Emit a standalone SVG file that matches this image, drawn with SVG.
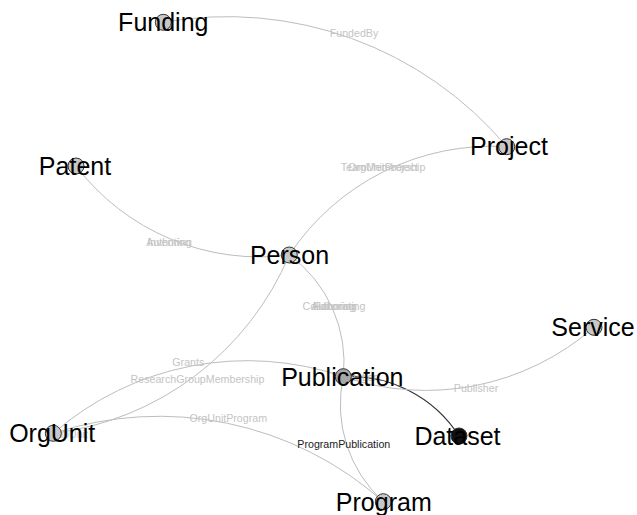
<svg xmlns="http://www.w3.org/2000/svg" width="637" height="515" viewBox="0 0 637 515">
<style>
.edge{fill:none;stroke:#bdbdbd;stroke-width:1}
.edge.dark{stroke:#333;stroke-width:1.2}
.elabel{font-family:"Liberation Sans",Arial,sans-serif;font-size:10.67px;fill:#c4c4c4;text-anchor:middle}
.elabel.dark{fill:#222}
.node circle{fill:#c8c8c8;stroke:#333;stroke-width:1}
.node text{font-family:"Liberation Sans",Arial,sans-serif;font-size:25px;fill:#000;text-anchor:middle}
</style>
<rect width="637" height="515" fill="#fff"/>
<g id="connectors">
<path class="edge" d="M163.3,22.3 A365.2,365.2 0 0,1 506.7,146.7"/>
<path class="edge" d="M289.3,255 A242.9,242.9 0 0,1 506.7,146.7"/>
<path class="edge" d="M289.3,255 A231.1,231.1 0 0,1 76,166"/>
<path class="edge" d="M289.3,255 A133.1,133.1 0 0,1 343.3,376.7"/>
<path class="edge" d="M289.3,255 A295.8,295.8 0 0,1 53.3,433.3"/>
<path class="edge" d="M53.3,433.3 A295.5,295.5 0 0,1 343.3,376.7"/>
<path class="edge" d="M53.3,433.3 A337,337 0 0,1 383.3,501.7"/>
<path class="edge" d="M383.3,501.7 A131.2,131.2 0 0,1 343.3,376.7"/>
<path class="edge dark" d="M343.3,376.7 A129.1,129.1 0 0,1 459,436"/>
<path class="edge" d="M594,327.3 A255.5,255.5 0 0,1 343.3,376.7"/>
<text class="elabel" x="354" y="37">FundedBy</text>
<text class="elabel" x="383" y="171">TeamMembership</text>
<text class="elabel" x="383" y="171">OrgUnitProject</text>
<text class="elabel" x="169" y="246">Invention</text>
<text class="elabel" x="169" y="246">Authoring</text>
<text class="elabel" x="334" y="310">Collaborating</text>
<text class="elabel" x="334" y="310">Authoring</text>
<text class="elabel" x="334" y="310">Editoring</text>
<text class="elabel" x="197.5" y="383">ResearchGroupMembership</text>
<text class="elabel" x="188.3" y="366">Grants</text>
<text class="elabel" x="228.3" y="422">OrgUnitProgram</text>
<text class="elabel dark" x="343.8" y="448">ProgramPublication</text>
<text class="elabel" x="476" y="392">Publisher</text>
<text class="elabel" x="361" y="381">Citation</text>
<text class="elabel" x="69" y="438">SubUnit</text>
</g>
<g id="node-funding" class="node"><circle cx="163.3" cy="22.3" r="8"/><text x="163.3" y="31">Funding</text></g>
<g id="node-project" class="node"><circle cx="506.7" cy="146.7" r="8"/><text x="509" y="155">Project</text></g>
<g id="node-patent" class="node"><circle cx="76" cy="166" r="8"/><text x="75" y="175">Patent</text></g>
<g id="node-person" class="node"><circle cx="289.3" cy="255" r="8"/><text x="289.5" y="264">Person</text></g>
<g id="node-service" class="node"><circle cx="594" cy="327.3" r="8"/><text x="593" y="336">Service</text></g>
<g id="node-publication" class="node"><circle cx="343.3" cy="376.7" r="8" style="fill:#a8a8a8"/><text x="342.3" y="385.5">Publication</text></g>
<g id="node-orgunit" class="node"><circle cx="53.3" cy="433.3" r="8"/><text x="52.2" y="442">OrgUnit</text></g>
<g id="node-dataset" class="node"><circle cx="459" cy="436" r="8" style="fill:#111"/><text x="457.5" y="445">Dataset</text></g>
<g id="node-program" class="node"><circle cx="383.3" cy="501.7" r="8"/><text x="383.8" y="510.5">Program</text></g>
</svg>
